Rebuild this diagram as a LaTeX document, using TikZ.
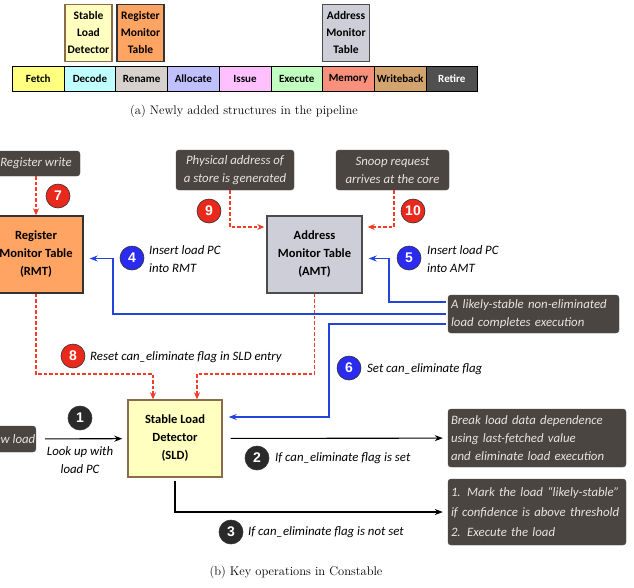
\documentclass[tikz,border=0pt]{standalone}
\usepackage{fontspec}
\newfontfamily\diafont{Carlito}
\newfontfamily\numfont{Liberation Sans}
\usepackage{tikz}
\usetikzlibrary{arrows.meta}
\definecolor{fetchc}{HTML}{FFFF80}
\definecolor{decodec}{HTML}{C0FFFF}
\definecolor{renamec}{HTML}{D6D1CC}
\definecolor{allocc}{HTML}{C0C0FF}
\definecolor{issuec}{HTML}{FFC0FF}
\definecolor{execc}{HTML}{C0FFC0}
\definecolor{memc}{HTML}{F8907C}
\definecolor{wbc}{HTML}{D4A46E}
\definecolor{retirec}{HTML}{505050}
\definecolor{sldc}{HTML}{FFFFC0}
\definecolor{sldline}{HTML}{8B6B4A}
\definecolor{rmtc}{HTML}{FFA463}
\definecolor{amtc}{HTML}{CECED8}
\definecolor{notec}{HTML}{4A4540}
\definecolor{notetext}{HTML}{E8E4DE}
\definecolor{redc}{HTML}{F03C28}
\definecolor{bluec}{HTML}{2244DD}
\definecolor{numred}{HTML}{E8291C}
\definecolor{numblue}{HTML}{2A2AF0}
\definecolor{numdark}{HTML}{2A2A2A}

\begin{document}
\begin{tikzpicture}[x=1pt,y=-1pt,
  stage/.style={draw,line width=0.8pt,minimum width=51.7,minimum height=25,inner sep=0,anchor=north west,font=\diafont\bfseries\fontsize{11}{12}\selectfont},
  unit/.style={draw,line width=1.4pt,align=center,inner sep=0,font=\diafont\bfseries\fontsize{12.5}{18}\selectfont},
  event/.style={draw=black!70,fill=notec,text=notetext,rounded corners=3pt,inner sep=0,font=\diafont\itshape\fontsize{12.8}{18}\selectfont},
  txt/.style={inner sep=0,align=left,font=\diafont\itshape\fontsize{12.8}{18}\selectfont},
  num/.style={circle,draw=black!80,line width=0.6pt,text=white,minimum size=24,inner sep=0,font=\numfont\bfseries\fontsize{14}{14}\selectfont},
  redflow/.style={draw=redc,line width=1.1pt,dash pattern=on 3.5pt off 2pt,-{Stealth[length=7pt,width=6pt]}},
  blueflow/.style={draw=bluec,line width=1.1pt,-{Stealth[length=8pt,width=6pt]},shorten >=6pt},
  flow/.style={draw=black,line width=1.1pt,-{Stealth[length=8pt,width=6pt]},shorten >=5pt}]
\clip (0,0) rectangle (634,587);
\fill[white] (0,0) rectangle (634,587);

\foreach \lbl/\clr/\tc [count=\i from 0] in {Fetch/fetchc/black,Decode/decodec/black,Rename/renamec/black,Allocate/allocc/black,Issue/issuec/black,Execute/execc/black,Memory/memc/black,Writeback/wbc/black,Retire/retirec/white}
  \node[stage,fill=\clr,text=\tc] (st\i) at (12+51.7*\i,66) {\lbl};

\node[unit,fill=sldc,draw=sldline,minimum width=47,minimum height=57,anchor=south,font=\diafont\bfseries\fontsize{11.5}{17}\selectfont] (topsld) at (88.5,62) {Stable\\Load\\Detector};
\node[unit,fill=rmtc,draw=black!80,minimum width=47,minimum height=57,anchor=south,font=\diafont\bfseries\fontsize{11.5}{17}\selectfont] (toprmt) at (140.5,62) {Register\\Monitor\\Table};
\node[unit,fill=amtc,draw=black!70,minimum width=47,minimum height=57,anchor=south,font=\diafont\bfseries\fontsize{11.5}{17}\selectfont] (topamt) at (346,62) {Address\\Monitor\\Table};

\node[font=\fontsize{12.5}{14}\selectfont] (capa) at (244,111) {(a) Newly added structures in the pipeline};

\node[event,minimum width=88,minimum height=25] (regw) at (36,163.5) {Register write};
\node[event,minimum width=118,minimum height=40,align=center] (phys) at (235,170) {Physical address of\\a store is generated};
\node[event,minimum width=113,minimum height=40,align=center] (snoop) at (392.5,170) {Snoop request\\arrives at the core};

\node[unit,fill=rmtc,draw=black!80,minimum width=94,minimum height=77] (rmt) at (36,254.5) {Register\\Monitor Table\\(RMT)};
\node[unit,fill=amtc,draw=black!70,minimum width=95,minimum height=77] (amt) at (314.5,254.5) {Address\\Monitor Table\\(AMT)};
\node[unit,fill=sldc,draw=sldline,minimum width=94,minimum height=77] (sld) at (175,438.5) {Stable Load\\Detector\\(SLD)};

\node[event,minimum width=171,minimum height=38,align=left,text width=165] (likely) at (533.5,314) {A likely-stable non-eliminated\\load completes execution};
\node[event,minimum width=50,minimum height=26,anchor=east] (newload) at (36,439) {New load};
\node[event,minimum width=178,minimum height=58,align=left,text width=172] (brk) at (537,438) {Break load data dependence\\using last-fetched value\\and eliminate load execution};
\node[event,minimum width=178,minimum height=66,align=left,text width=172,font=\diafont\itshape\fontsize{12.8}{20}\selectfont] (mark) at (537,512) {1. Mark the load “likely-stable”\\if confidence is above threshold\\2. Execute the load};

\node[num,fill=numdark] (n1) at (80,418) {1};
\node[num,fill=numdark] (n2) at (257,458) {2};
\node[num,fill=numdark] (n3) at (231,532) {3};
\node[num,fill=numblue] (n4) at (132,258) {4};
\node[num,fill=numblue] (n5) at (409,258) {5};
\node[num,fill=numblue] (n6) at (349,368) {6};
\node[num,fill=numred] (n7) at (58,196) {7};
\node[num,fill=numred] (n8) at (73,356) {8};
\node[num,fill=numred] (n9) at (209,211) {9};
\node[num,fill=numred] (n10) at (413,211) {10};

\node[txt,anchor=west] (t4) at (149,259) {Insert load PC\\into RMT};
\node[txt,anchor=west] (t5) at (427,259) {Insert load PC\\into AMT};
\node[txt,anchor=west] (t8) at (90,357) {Reset can\_eliminate flag in SLD entry};
\node[txt,anchor=west] (t6) at (367,369) {Set can\_eliminate flag};
\node[txt,align=center] (t1) at (80,460) {Look up with\\load PC};
\node[txt,anchor=west] (t2) at (275,458) {If can\_eliminate flag is set};
\node[txt,anchor=west] (t3) at (248,532) {If can\_eliminate flag is not set};

\node[font=\fontsize{12.5}{14}\selectfont] (capb) at (296,572) {(b) Key operations in Constable};

\coordinate (b4) at (113,258.5);
\coordinate (b5) at (389,258.5);
\coordinate (b6) at (329,417);
\coordinate (r8a) at (153,374);
\coordinate (r8b) at (197,374);

\draw[redflow] (regw) -- (rmt);
\draw[redflow] ([xshift=-5]phys.south) |- ([yshift=27.5,xshift=-2]amt.west);
\draw[redflow] ([xshift=1.5]snoop.south) |- ([yshift=27.5,xshift=5]amt.east);
\draw[redflow] (rmt.south) |- (r8a) -- (r8a |- sld.north);
\draw[redflow] (amt.south) |- (r8b) -- (r8b |- sld.north);

\draw[blueflow] ([xshift=-2]likely.west) -| (b4) -- ([yshift=-4]rmt.east);
\draw[blueflow] ([yshift=12,xshift=-2]likely.west) -| (b5) -- ([yshift=-4]amt.east);
\draw[blueflow] ([yshift=-10,xshift=-2]likely.west) -| (b6) -- ([yshift=21.5]sld.east);

\draw[flow,shorten <=9pt] (newload) -- (sld);
\draw[flow,shorten <=8pt] (sld) -- (brk);
\draw[flow,shorten <=3pt] (sld.south) |- (mark.west);
\end{tikzpicture}
\end{document}
